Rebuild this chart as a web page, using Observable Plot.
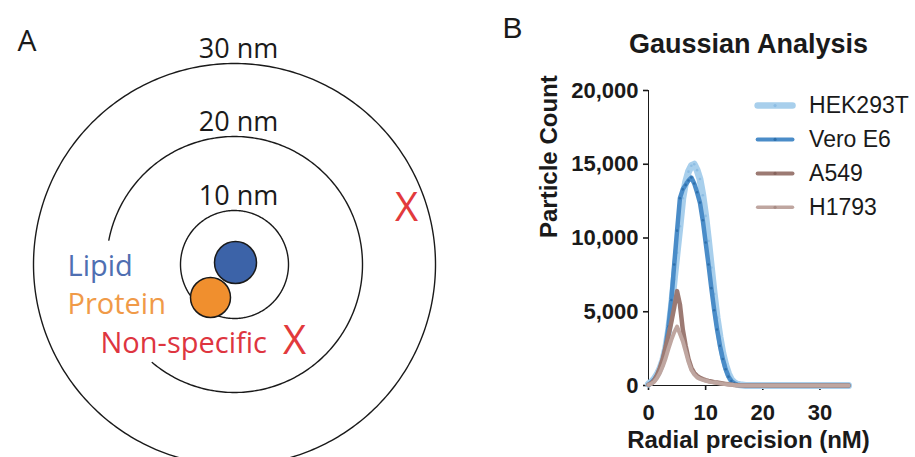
<!DOCTYPE html>
<html><head><meta charset="utf-8">
<script src="https://cdn.jsdelivr.net/npm/d3@7"></script>
<script src="https://cdn.jsdelivr.net/npm/@observablehq/plot@0.6"></script>
<style>
html,body{margin:0;padding:0;background:#fff;}
#wrap{position:relative;width:915px;height:457px;overflow:hidden;background:#fff;}
#a{position:absolute;left:0;top:0;}
#b{position:absolute;left:500px;top:0;}
#b svg g[aria-label*="axis"] path, #b svg g[aria-label*="axis"] line{stroke-width:1.6px;}
</style></head><body>
<div id="wrap"><div id="a"></div><div id="b"></div></div>
<script>
// ---------- Panel B data ----------
const radialPrecision = [0,0.5,1,1.5,2,2.5,3,3.5,4,4.5,5,5.5,6,6.5,7,7.5,8,8.5,9,9.5,10,10.5,11,11.5,12,12.5,13,13.5,14,14.5,15,15.5,16,
  17,18,19,20,21,22,23,24,25,26,27,28,29,30,31,32,33,34,35];
const hek293t = [100,250,450,750,1150,1700,2500,3700,5300,7200,9000,10800,12700,13800,14500,14900,15000,14600,14000,12900,11500,9800,8000,6200,4600,3300,2200,1400,800,400,200,100,50,
  0,0,0,0,0,0,0,0,0,0,0,0,0,0,0,0,0,0,0];
const veroE6 = [50,200,400,700,1100,1700,2600,4000,5800,8200,10500,12700,13300,13600,13900,14100,13700,13100,12400,11200,9700,8200,6600,5100,3800,2700,1800,1100,600,300,150,60,20,
  0,0,0,0,0,0,0,0,0,0,0,0,0,0,0,0,0,0,0];
const a549 = [50,150,350,700,1200,1800,2600,3400,4300,5300,6400,5500,3800,2700,1800,1200,850,650,520,430,360,310,270,230,200,170,140,110,80,60,40,20,10,
  0,0,0,0,0,0,0,0,0,0,0,0,0,0,0,0,0,0,0];
const h1793 = [40,120,250,500,850,1300,1850,2500,3100,3600,4000,3500,3000,2300,1600,1050,750,550,450,380,320,270,230,200,170,140,110,90,70,50,30,15,5,
  0,0,0,0,0,0,0,0,0,0,0,0,0,0,0,0,0,0,0];
const seriesNames = ["HEK293T","Vero E6","A549","H1793"];
const xTicks = [0,10,20,30];
const yTicks = [0,5000,10000,15000,20000];

// ---------- Panel A labels ----------
const ringLabels = ["10 nm","20 nm","30 nm"];
const probeLabels = ["Lipid","Protein","Non-specific"];
const excludedMark = ["X","X"];

// ---------- styles ----------
const seriesColors = ["#a8cfec","#4a8cc8","#9c7a73","#bfa6a0"];
const markerColors = ["#8dbde3","#2f70ab","#86645d","#a88d86"];
const seriesWidths = [7,4.5,4.5,4];
const probeColors = ["#4f6fb2","#f09a48","#de3540"];

// ---------- Panel A (schematic) ----------
const ringR = [54,128,201];
const ringArc = [[0,360],[-130,169],[0,360]];
const ringPts = [];
ringR.forEach((r,i)=>{
  const [a0,a1] = ringArc[i];
  for(let a=a0;a<=a1;a+=1){
    ringPts.push({ring:ringLabels[i], x:r*Math.cos(a*Math.PI/180), y:r*Math.sin(a*Math.PI/180)});
  }
});
const probeTextPos = [[-167,-11],[-167,-49],[-134,-88]];
const xPos = [[60,-89],[172,44]];

const plotA = Plot.plot({
  width:460, height:457, margin:0,
  x:{domain:[-234,226], axis:null},
  y:{domain:[-193,264], axis:null},
  style:{fontFamily:"'Open Sans', 'Noto Sans', sans-serif", background:"white", overflow:"hidden"},
  marks:[
    Plot.line(ringPts,{x:"x",y:"y",z:"ring",stroke:"#1a1a1a",strokeWidth:1.4}),
    Plot.dot([{x:1,y:2}],{x:"x",y:"y",r:21,fill:"#3c63a8",stroke:"#1a1a1a",strokeWidth:1.5}),
    Plot.dot([{x:-24,y:-33}],{x:"x",y:"y",r:20,fill:"#f08f2e",stroke:"#1a1a1a",strokeWidth:1.5}),
    Plot.text(ringLabels,{x:4,y:(d,i)=>ringR[i]+6,text:d=>d,fontSize:27,lineAnchor:"bottom",fill:"#1a1a1a"}),
    Plot.text(probeLabels,{x:(d,i)=>probeTextPos[i][0],y:(d,i)=>probeTextPos[i][1],text:d=>d,fontSize:29,textAnchor:"start",lineAnchor:"bottom",fill:(d,i)=>probeColors[i]}),
    Plot.text(excludedMark,{x:(d,i)=>xPos[i][0],y:(d,i)=>xPos[i][1],text:d=>d,fontSize:40,lineAnchor:"bottom",fill:"#e23a3c"}),
    Plot.text(["A"],{x:-217,y:214,text:d=>d,fontSize:30,textAnchor:"start",lineAnchor:"bottom",fill:"#1a1a1a"})
  ]
});
document.getElementById("a").appendChild(plotA);

// ---------- Panel B (chart) ----------
const seriesValues = [hek293t, veroE6, a549, h1793];
const rows = [];
seriesNames.forEach((name,s)=>seriesValues[s].forEach((v,i)=>rows.push({series:name,x:radialPrecision[i],y:v})));

const legendX1 = 19.1, legendX2 = 25.2, legendTextX = 28.1, legendTop = 18980, legendStep = 2300;
const legendRows = seriesNames.map((name,i)=>({name, i, y:legendTop - i*legendStep}));

const lineMarks = [];
seriesNames.forEach((name,i)=>{
  const data = rows.filter(d=>d.series===name);
  lineMarks.push(Plot.line(data,{x:"x",y:"y",stroke:seriesColors[i],strokeWidth:seriesWidths[i],strokeLinejoin:"round",strokeLinecap:"round"}));
  if(i<2) lineMarks.push(Plot.dot(data,{x:"x",y:"y",r:1.3,fill:markerColors[i]}));
});

const legendMarks = [];
legendRows.forEach(d=>{
  legendMarks.push(Plot.line([{x:legendX1,y:d.y},{x:legendX2,y:d.y}],{x:"x",y:"y",stroke:seriesColors[d.i],strokeWidth:seriesWidths[d.i]-0.5}));
  legendMarks.push(Plot.dot([{x:(legendX1+legendX2)/2,y:d.y}],{x:"x",y:"y",r:1.6,fill:markerColors[d.i]}));
});

const plotB = Plot.plot({
  width:415, height:457, marginLeft:148, marginRight:67, marginTop:90, marginBottom:72,
  style:{fontFamily:"'Liberation Sans', Arial, sans-serif", fontSize:"22px", fontWeight:"bold", color:"#1a1a1a", background:"white", overflow:"visible"},
  x:{domain:[0,35], ticks:xTicks, tickSize:5, tickPadding:14, line:true, label:null},
  y:{domain:[0,20000], ticks:yTicks, tickFormat:d3.format(","), tickSize:5, tickPadding:5, line:true, label:null},
  marks:[
    ...lineMarks,
    ...legendMarks,
    Plot.text(legendRows,{x:legendTextX,y:"y",text:"name",textAnchor:"start",fontSize:23,fontWeight:"normal",fill:"#1a1a1a"}),
    Plot.text(["Gaussian Analysis"],{frameAnchor:"top",text:d=>d,dy:-38,lineAnchor:"bottom",fontSize:27,fontWeight:"bold"}),
    Plot.text(["B"],{frameAnchor:"top-left",text:d=>d,dx:-146,dy:-53,textAnchor:"start",lineAnchor:"bottom",fontSize:30,fontWeight:"normal"}),
    Plot.text(["Radial precision (nM)"],{frameAnchor:"bottom",text:d=>d,dy:62,lineAnchor:"bottom",fontSize:24,fontWeight:"bold"}),
    Plot.text(["Particle Count"],{frameAnchor:"left",text:d=>d,dx:-99,rotate:-90,fontSize:24,fontWeight:"bold"})
  ]
});
document.getElementById("b").appendChild(plotB);
</script>
</body></html>
